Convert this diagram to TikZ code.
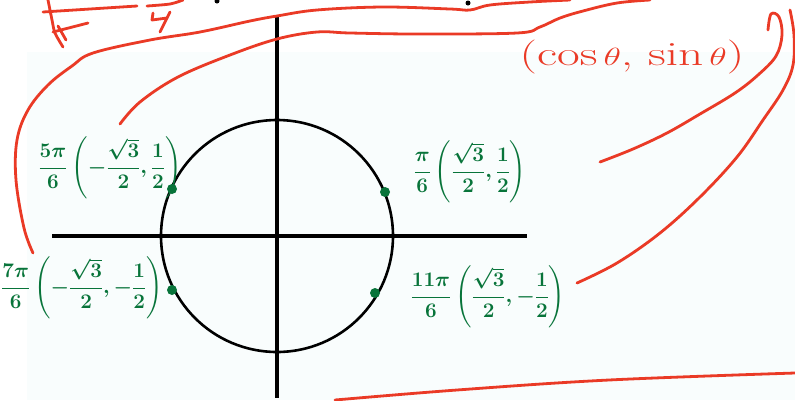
\documentclass[tikz,border=0pt]{standalone}
\usepackage{amsmath}
\usepackage{xcolor}
\usetikzlibrary{positioning}

\definecolor{penred}{RGB}{234,58,38}
\definecolor{pengreen}{RGB}{8,116,58}
\definecolor{paper}{RGB}{249,253,253}

\begin{document}
\begin{tikzpicture}[
  x=1pt, y=-1pt,
  axis/.style={line width=4.5pt},
  ring/.style={line width=2.6pt},
  redpen/.style={draw=penred, line width=2.8pt, line cap=round, line join=round},
  inkdot/.style={circle, fill=pengreen, inner sep=0pt, minimum size=10pt},
  lbl/.style={text=pengreen, font=\fontsize{20}{24}\selectfont\boldmath, inner sep=0pt},
  note/.style={text=penred, font=\fontsize{34}{38}\selectfont, inner sep=0pt}
]
  \useasboundingbox (0,0) rectangle (795,400);
  \fill[paper] (27,52) rectangle (795,400);

  % axes and unit circle
  \coordinate (O) at (277,236);
  \draw[axis] (52,236) -- (527,236);
  \draw[axis] (277,15) -- (277,398);
  \draw[ring] (O) circle[radius=116];

  % marked points
  \node[inkdot] (p1) at (385,192) {};
  \node[inkdot] (p5) at (172,189) {};
  \node[inkdot] (p7) at (172,290) {};
  \node[inkdot] (p11) at (375,293) {};

  \node[lbl] (l1) at (470,172) {$\dfrac{\pi}{6}\left(\dfrac{\sqrt3}{2},\dfrac12\right)$};
  \node[lbl] (l5) at (110,168) {$\dfrac{5\pi}{6}\left(-\dfrac{\sqrt3}{2},\dfrac12\right)$};
  \node[lbl] (l7) at (82,288) {$\dfrac{7\pi}{6}\left(-\dfrac{\sqrt3}{2},-\dfrac12\right)$};
  \node[lbl] (l11) at (488,297) {$\dfrac{11\pi}{6}\left(\dfrac{\sqrt3}{2},-\dfrac12\right)$};

  \node[note] (cs) at (632,57) {\scalebox{1.45}[1]{(cos$\,\theta$, sin$\,\theta$)}};

  % red pen strokes
  \draw[redpen] plot[smooth, tension=0.6] coordinates {(33,253) (24,228) (16,180) (17,140) (28,110) (48,85) (72,66) (93,53) (150,40) (200,32) (250,21) (277,16) (317,10) (383,7) (450,9) (470,10) (490,5) (530,2) (570,0)};
  \draw[redpen] plot[smooth, tension=0.6] coordinates {(120,124) (140,102) (178,77) (230,55) (277,39) (317,32) (350,33) (417,34) (517,33) (540,27) (560,18) (583,11) (617,3) (650,0)};
  \draw[redpen] plot[smooth, tension=0.6] coordinates {(768,30) (771,14) (779,17) (782,35) (776,56) (758,75) (735,93) (700,114) (667,133) (633,149) (600,162)};
  \draw[redpen] plot[smooth, tension=0.6] coordinates {(790,10) (794,35) (793,65) (783,90) (763,120) (737,157) (700,197) (660,233) (617,263) (577,283)};
  \draw[redpen] plot[smooth, tension=0.6] coordinates {(335,400) (457,390) (609,380) (795,373)};

  % cut-off writing at the top
  \draw[redpen] (43,12) -- (137,6);
  \draw[redpen] plot[smooth] coordinates {(48,0) (52,20) (55,33) (63,47)};
  \draw[redpen] (53,32) -- (88,23);
  \draw[redpen] (58,26) -- (66,40);
  \draw[redpen] plot[smooth] coordinates {(147,6) (170,4) (183,0)};
  \draw[redpen] (153,13) -- (152,20) -- (167,18);
  \draw[redpen] (170,12) -- (160,32);
  \fill (217,1) circle[radius=2.5];
  \fill (468,3) circle[radius=2.5];
\end{tikzpicture}
\end{document}
